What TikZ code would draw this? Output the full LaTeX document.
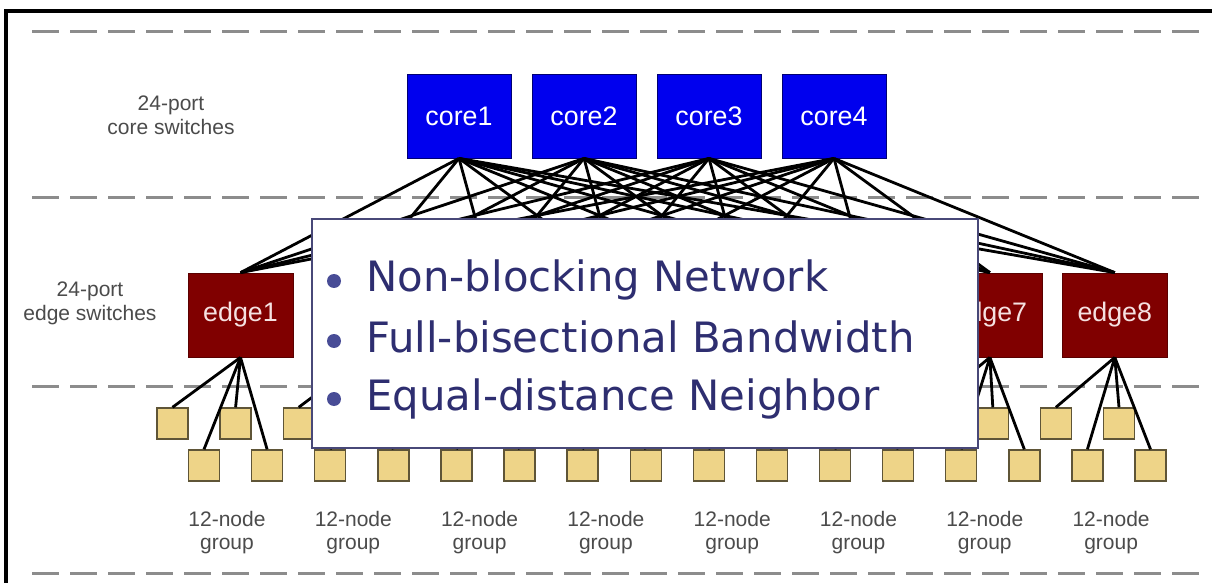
\documentclass[tikz,border=0pt]{standalone}
\usepackage{fontspec}
\setmainfont{Liberation Sans}
\newfontfamily\factfont{DejaVu Sans}
\definecolor{coreblue}{RGB}{0,0,238}
\definecolor{edgered}{RGB}{128,0,0}
\definecolor{edgetext}{RGB}{245,225,225}
\definecolor{leafyellow}{RGB}{238,212,136}
\definecolor{leafline}{RGB}{95,85,55}
\definecolor{guidegray}{RGB}{140,140,140}
\definecolor{labelgray}{RGB}{75,75,75}
\definecolor{factblue}{RGB}{46,46,112}
\definecolor{dotblue}{RGB}{72,76,150}
\definecolor{boxline}{RGB}{72,72,120}
\begin{document}
\begin{tikzpicture}[x=0.5pt, y=-0.5pt,
  core/.style={draw=blue!45!black, line width=0.4pt, fill=coreblue, text=white, minimum width=52pt, minimum height=42pt, inner sep=0pt, font=\fontsize{13.4}{16}\selectfont},
  edgesw/.style={draw=edgered!70!black, line width=0.4pt, fill=edgered, text=edgetext, minimum width=52.5pt, minimum height=42pt, inner sep=0pt, font=\fontsize{13.4}{16}\selectfont},
  leaf/.style={draw=leafline, line width=0.7pt, fill=leafyellow, minimum size=15.5pt, inner sep=0pt},
  wire/.style={line width=1.4pt, black},
  guideline/.style={guidegray, line width=1.5pt, dash pattern=on 13.5pt off 5.5pt},
  lbl/.style={text=labelgray, align=center, font=\fontsize{10.5}{12}\selectfont},
  grp/.style={text=labelgray, align=center, font=\fontsize{10.5}{11.5}\selectfont},
  notebox/.style={draw=boxline, line width=1.2pt, fill=white, minimum width=333pt, minimum height=114.5pt, inner sep=0pt},
  fact/.style={text=factblue, anchor=base west, inner sep=0pt, font=\factfont\fontsize{20.9}{25}\selectfont},
  bulletdot/.style={circle, fill=dotblue, minimum size=7pt, inner sep=0pt}]
\useasboundingbox (0,0) rectangle (1212,583);
\fill[white] (0,0) rectangle (1212,583);
\draw[line width=2pt] (5.5,583) -- (5.5,11) -- (1212,11);
\draw[guideline] (32,32) -- (1200,32);
\draw[guideline] (32,198) -- (1200,198);
\draw[guideline] (32,386) -- (1200,386);
\draw[guideline] (32,573) -- (1200,573);
\node[lbl] (corelbl) at (171,115) {24-port\\core switches};
\node[lbl] (edgelbl) at (90,303.5) {24-port\\edge switches};
\foreach \j in {1,...,4}
  \node[core] (c\j) at ({459+125*(\j-1)},116) {core\j};
\foreach \i in {1,...,8}{
  \node[edgesw] (e\i) at ({240.5+124.9*(\i-1)},315) {};
  \node[leaf] (ul\i) at ({172.5+126.2*(\i-1)},423.5) {};
  \node[leaf] (ur\i) at ({235.6+126.2*(\i-1)},423.5) {};
  \node[leaf] (dl\i) at ({204+126.2*(\i-1)},465.5) {};
  \node[leaf] (dr\i) at ({267.1+126.2*(\i-1)},465.5) {};
  \node[grp] (g\i) at ({227+126.3*(\i-1)},533) {12-node\\group};
}
\foreach \i in {1,7,8}
  \node[edgesw, draw=none, fill=none] (et\i) at (e\i) {edge\i};
\foreach \i in {1,...,8}{
  \foreach \j in {1,...,4}
    \draw[wire] (c\j.south) -- (e\i.north);
  \foreach \k in {ul,ur,dl,dr}
    \draw[wire] (e\i.south) -- (\k\i.north);
}
\node[notebox] (facts) at (645,333.5) {};
\node[bulletdot] (b1) at (334,281) {};
\node[bulletdot] (b2) at (334,341) {};
\node[bulletdot] (b3) at (334,399) {};
\node[fact] (f1) at (366,292) {Non-blocking Network};
\node[fact] (f2) at (366,352) {Full-bisectional Bandwidth};
\node[fact] (f3) at (366,410) {Equal-distance Neighbor};
\end{tikzpicture}
\end{document}
